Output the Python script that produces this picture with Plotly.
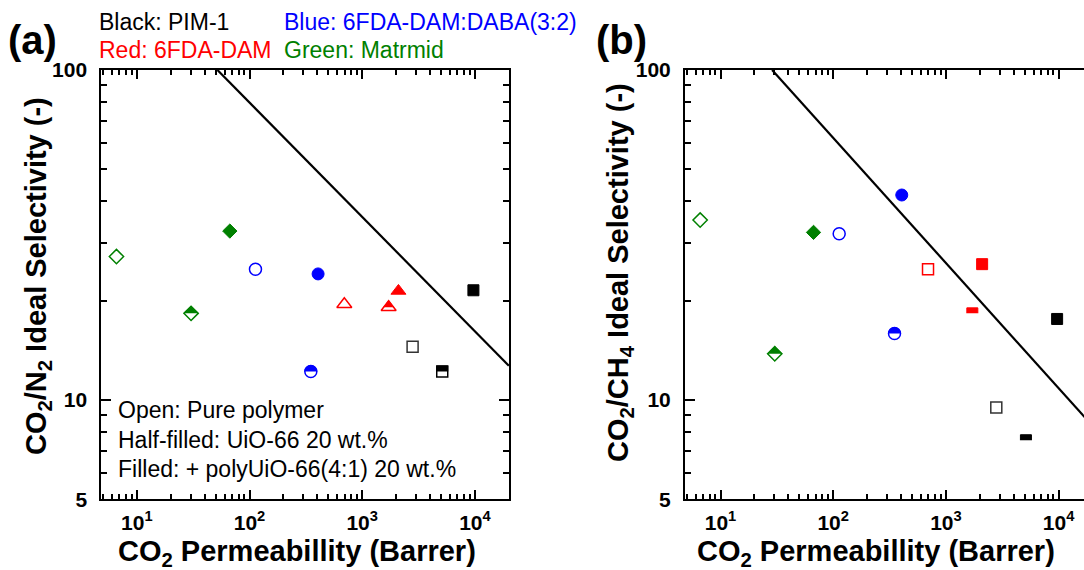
import numpy as np
import plotly.graph_objects as go

# ---------------- data ----------------
# CO2 permeability (Barrer) for [pure polymer, UiO-66 20 wt.%, polyUiO-66(4:1) 20 wt.%]
pim1_P = [2800, 5130, 9700]
daba_P = [113, 350, 406]
dam_P = [694, 1716, 2097]
matrimid_P = [6.6, 30.3, 66.9]

# CO2/N2 ideal selectivity
pim1_N2 = [14.5, 12.2, 21.5]
daba_N2 = [24.9, 12.2, 24.1]
dam_N2 = [19.5, 19.1, 21.4]
matrimid_N2 = [27.2, 18.3, 32.5]

# CO2/CH4 ideal selectivity
pim1_CH4 = [9.48, 7.55, 17.6]
daba_CH4 = [31.9, 15.9, 41.8]
dam_CH4 = [24.9, 18.3, 25.8]
matrimid_CH4 = [35.1, 13.8, 32.2]

# upper-bound lines (end points)
ub_N2_P = [51.9, 20000]
ub_N2_S = [100, 12.7]
ub_CH4_P = [28.7, 20000]
ub_CH4_S = [100, 8.35]

x_tickvals = [10, 100, 1000, 10000]
x_ticktext = ["10<sup>1</sup>", "10<sup>2</sup>", "10<sup>3</sup>", "10<sup>4</sup>"]
x_minor = [m * 10 ** e for e in range(0, 5) for m in range(2, 10) if 5 <= m * 10 ** e <= 20000]
y_tickvals = [5, 10, 100]
y_ticktext = ["5", "10", "100"]
y_minor = [6, 7, 8, 9, 20, 30, 40, 50, 60, 70, 80, 90]

legend_lines = [("Black: PIM-1", "#000000"), ("Blue: 6FDA-DAM:DABA(3:2)", "#0000FF"),
                ("Red: 6FDA-DAM", "#FF0000"), ("Green: Matrmid", "#008000")]
state_lines = ["Open: Pure polymer", "Half-filled: UiO-66 20 wt.%", "Filled: + polyUiO-66(4:1) 20 wt.%"]

# ---------------- geometry ----------------
W, H = 1084, 570
FONT = "Liberation Sans, Arial, sans-serif"
ppd = 112.7            # px per decade on x
xlog0 = 0.685
ax_a = (101.3, 509.3)
ax_b = (685.0, 1084.0)
y_top, y_bot = 70.0, 499.3
ylog = [np.log10(5), 2.0]
ppd_y = (y_bot - y_top) / (ylog[1] - ylog[0])

def xr(px):
    return [xlog0, xlog0 + (px[1] - px[0]) / ppd]

fig = go.Figure()

def add_marker(P, S, sym, color, state, xa, ya, size, outline=True, olw=1.5, ocolor=None):
    ocolor = ocolor or color
    if state == "open":
        fig.add_trace(go.Scatter(x=[P], y=[S], mode="markers", xaxis=xa, yaxis=ya, showlegend=False,
                                 marker=dict(symbol=sym + "-open", size=size, color=ocolor,
                                             line=dict(color=ocolor, width=olw))))
        return
    fig.add_trace(go.Scatter(x=[P], y=[S], mode="markers", xaxis=xa, yaxis=ya, showlegend=False,
                             marker=dict(symbol=sym, size=size, color=color,
                                         line=dict(color=color, width=1))))
    if state == "half":
        # white band covering the lower part of the marker
        if sym in ("circle", "square"):
            wdt, hgt = size + 3, size / 2 + 2
        elif sym == "diamond":
            wdt, hgt = 1.3 * size + 3, 0.65 * size + 2
        else:  # triangle-up
            wdt, hgt = 1.155 * size + 3, size / 4 + 2
        yc = S * 10 ** (-(hgt / 2) / ppd_y)
        fig.add_trace(go.Scatter(x=[P], y=[yc], mode="markers", xaxis=xa, yaxis=ya, showlegend=False,
                                 marker=dict(symbol="line-ew", size=wdt / 1.4, color="white",
                                             line=dict(color="white", width=hgt))))
        if outline:
            fig.add_trace(go.Scatter(x=[P], y=[S], mode="markers", xaxis=xa, yaxis=ya, showlegend=False,
                                     marker=dict(symbol=sym + "-open", size=size, color=color,
                                                 line=dict(color=color, width=olw))))

states = ["open", "half", "filled"]
SIZES = {"square": 11, "circle": 12, "diamond": 11, "triangle-up": 13}

# panel (a)
fig.add_trace(go.Scatter(x=ub_N2_P, y=ub_N2_S, mode="lines", xaxis="x", yaxis="y",
                         line=dict(color="black", width=2.2), showlegend=False))
series_a = [(pim1_P, pim1_N2, "square", "#000000"), (daba_P, daba_N2, "circle", "#0000FF"),
            (dam_P, dam_N2, "triangle-up", "#FF0000"), (matrimid_P, matrimid_N2, "diamond", "#008000")]
for P, S, sym, col in series_a:
    for i, st in enumerate(states):
        oc = "#333333" if (col == "#000000" and st == "open") else None
        add_marker(P[i], S[i], sym, col, st, "x", "y", SIZES[sym], ocolor=oc)

# panel (b)
fig.add_trace(go.Scatter(x=ub_CH4_P, y=ub_CH4_S, mode="lines", xaxis="x2", yaxis="y2",
                         line=dict(color="black", width=2.2), showlegend=False))
series_b = [(pim1_P, pim1_CH4, "square", "#000000"), (daba_P, daba_CH4, "circle", "#0000FF"),
            (dam_P, dam_CH4, "square", "#FF0000"), (matrimid_P, matrimid_CH4, "diamond", "#008000")]
for P, S, sym, col in series_b:
    for i, st in enumerate(states):
        oc = "#333333" if (col == "#000000" and st == "open") else None
        add_marker(P[i], S[i], sym, col, st, "x2", "y2", SIZES[sym],
                   outline=(sym != "square"), ocolor=oc)

def xaxis_cfg(px, mirror):
    return dict(type="log", range=xr(px), domain=[px[0] / W, px[1] / W], automargin=False,
                showline=True, linewidth=2, linecolor="black", mirror=mirror,
                ticks="inside", ticklen=9, tickwidth=2, tickcolor="black",
                tickmode="array", tickvals=x_tickvals, ticktext=x_ticktext,
                tickfont=dict(family=FONT, size=21, color="black", weight="bold"),
                ticklabelstandoff=3,
                minor=dict(tickmode="array", tickvals=x_minor, ticks="inside", ticklen=5,
                           tickwidth=1.5, tickcolor="black", showgrid=False),
                showgrid=False, zeroline=False, fixedrange=True)

def yaxis_cfg(anchor, mirror):
    return dict(type="log", range=ylog, domain=[1 - y_bot / H, 1 - y_top / H], anchor=anchor,
                automargin=False,
                showline=True, linewidth=2, linecolor="black", mirror=mirror,
                ticks="inside", ticklen=10, tickwidth=2, tickcolor="black",
                tickmode="array", tickvals=y_tickvals, ticktext=y_ticktext,
                tickfont=dict(family=FONT, size=21, color="black", weight="bold"),
                ticklabelstandoff=8,
                minor=dict(tickmode="array", tickvals=y_minor, ticks="inside", ticklen=6,
                           tickwidth=1.5, tickcolor="black", showgrid=False),
                showgrid=False, zeroline=False, fixedrange=True)

xa = xaxis_cfg(ax_a, "ticks"); xa["anchor"] = "y"
xb = xaxis_cfg(ax_b, "ticks"); xb["anchor"] = "y2"
fig.update_layout(xaxis=xa, yaxis=yaxis_cfg("x", "ticks"),
                  xaxis2=xb, yaxis2=yaxis_cfg("x2", False))

ann = []
def A(text, x, y, size, color="black", bold=False, xanchor="center", yanchor="middle", angle=0):
    ann.append(dict(text=text, x=x / W, y=1 - y / H, xref="paper", yref="paper", showarrow=False,
                    xanchor=xanchor, yanchor=yanchor, textangle=angle,
                    font=dict(family=FONT, size=size, color=color, weight="bold" if bold else "normal")))

A("(a)", 6, 40, 40, bold=True, xanchor="left")
A("(b)", 594, 40, 40, bold=True, xanchor="left")
A(legend_lines[0][0], 97, 22, 23, legend_lines[0][1], xanchor="left")
A(legend_lines[1][0], 282, 22, 23, legend_lines[1][1], xanchor="left")
A(legend_lines[2][0], 97, 50, 23, legend_lines[2][1], xanchor="left")
A(legend_lines[3][0], 282, 50, 23, legend_lines[3][1], xanchor="left")
for k, t in enumerate(state_lines):
    A(t, 116, 410 + 29.5 * k, 23, xanchor="left")

A("CO<sub>2</sub> Permeabillity (Barrer)", 297, 553, 29, bold=True)
A("CO<sub>2</sub> Permeabillity (Barrer)", 876, 553, 29, bold=True)
A("CO<sub>2</sub>/N<sub>2</sub> Ideal Selectivity (-)", 38, 276, 29, bold=True, angle=-90)
A("CO<sub>2</sub>/CH<sub>4</sub> Ideal Selectivity (-)", 620, 273, 29, bold=True, angle=-90)

fig.update_layout(width=W, height=H, autosize=False, margin=dict(l=0, r=0, t=0, b=0),
                  paper_bgcolor="white", plot_bgcolor="white", annotations=ann,
                  showlegend=False)

fig.write_html("out.html", config={"displayModeBar": False},
               post_script="document.body.style.margin='0';document.body.style.overflow='hidden';")
